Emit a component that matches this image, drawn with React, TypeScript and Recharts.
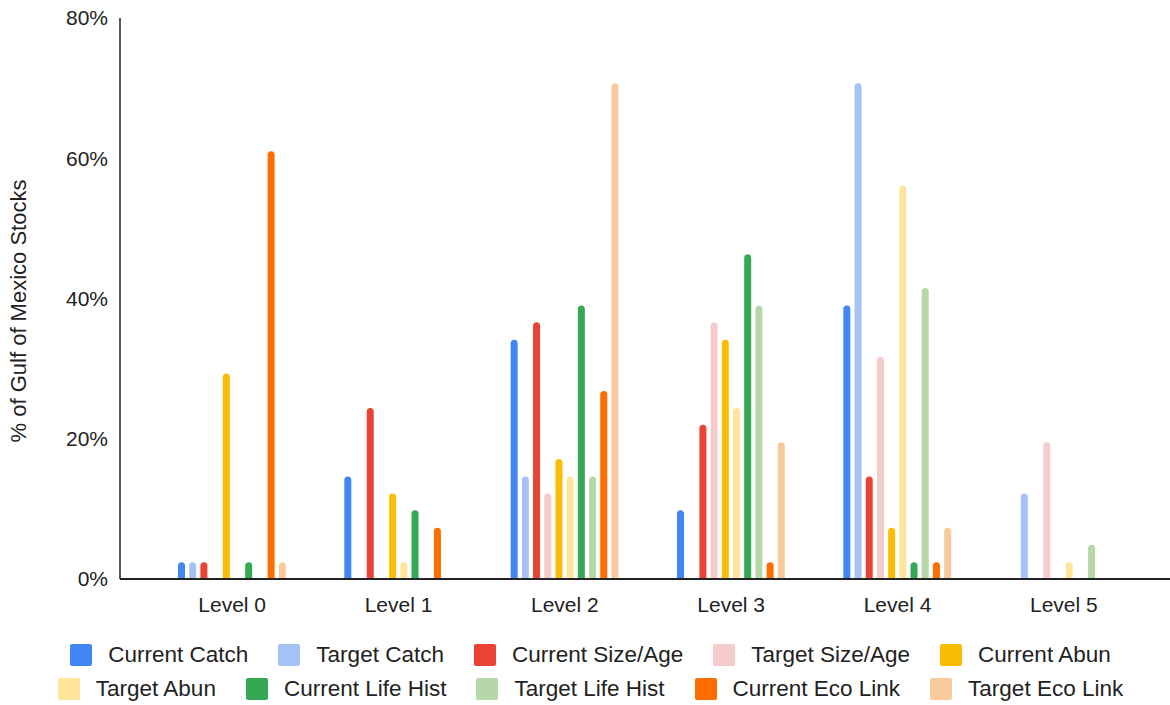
import React from "react";
import { Bar, BarChart, Legend, XAxis, YAxis } from "recharts";

const levels = ["Level 0", "Level 1", "Level 2", "Level 3", "Level 4", "Level 5"];

// % of Gulf of Mexico stocks at each level
const currentCatch = [2.4, 14.6, 34.1, 9.8, 39.0, 0];
const targetCatch = [2.4, 0, 14.6, 0, 70.7, 12.2];
const currentSizeAge = [2.4, 24.4, 36.6, 22.0, 14.6, 0];
const targetSizeAge = [0, 0, 12.2, 36.6, 31.7, 19.5];
const currentAbun = [29.3, 12.2, 17.1, 34.1, 7.3, 0];
const targetAbun = [0, 2.4, 14.6, 24.4, 56.1, 2.4];
const currentLifeHist = [2.4, 9.8, 39.0, 46.3, 2.4, 0];
const targetLifeHist = [0, 0, 14.6, 39.0, 41.5, 4.9];
const currentEcoLink = [61.0, 7.3, 26.8, 2.4, 2.4, 0];
const targetEcoLink = [2.4, 0, 70.7, 19.5, 7.3, 0];

const yTicks = [0, 20, 40, 60, 80];

const series = [
  { key: "cc", name: "Current Catch", values: currentCatch, color: "#4285f4" },
  { key: "tc", name: "Target Catch", values: targetCatch, color: "#a4c2f4" },
  { key: "csa", name: "Current Size/Age", values: currentSizeAge, color: "#ea4335" },
  { key: "tsa", name: "Target Size/Age", values: targetSizeAge, color: "#f4cccc" },
  { key: "ca", name: "Current Abun", values: currentAbun, color: "#fbbc04" },
  { key: "ta", name: "Target Abun", values: targetAbun, color: "#ffe599" },
  { key: "clh", name: "Current Life Hist", values: currentLifeHist, color: "#34a853" },
  { key: "tlh", name: "Target Life Hist", values: targetLifeHist, color: "#b6d7a8" },
  { key: "cel", name: "Current Eco Link", values: currentEcoLink, color: "#ff6d01" },
  { key: "tel", name: "Target Eco Link", values: targetEcoLink, color: "#f9cb9c" },
];

const data = levels.map((level, i) => {
  const row: Record<string, string | number> = { level };
  series.forEach((s) => {
    row[s.key] = s.values[i];
  });
  return row;
});

const FONT = '"Liberation Sans", Arial, sans-serif';
const TEXT = "#222222";

// legend in the series order, two rows of five
function LegendRows() {
  const rows = [series.slice(0, 5), series.slice(5)];
  return (
    <div style={{ paddingTop: 19, fontFamily: FONT, fontSize: 22.5, color: TEXT }}>
      {rows.map((row, r) => (
        <div key={r} style={{ display: "flex", justifyContent: "center", height: 34 }}>
          {row.map((item, i) => (
            <div
              key={item.key}
              style={{
                display: "flex",
                alignItems: "center",
                marginRight: i === row.length - 1 ? 0 : 30,
              }}
            >
              <span
                style={{
                  display: "inline-block",
                  width: 22,
                  height: 22,
                  borderRadius: 2,
                  background: item.color,
                  marginRight: 16,
                }}
              />
              <span style={{ lineHeight: "34px", whiteSpace: "nowrap" }}>{item.name}</span>
            </div>
          ))}
        </div>
      ))}
    </div>
  );
}

export default function App() {
  return (
    <div style={{ position: "absolute", left: 0, top: 0, width: 1170, height: 705, background: "#fff", overflow: "hidden" }}>
      <BarChart
        width={1170}
        height={705}
        data={data}
        margin={{ top: 18, right: 0, left: 0, bottom: 0 }}
        barSize={7}
        barGap={4.2}
      >
        <XAxis
          dataKey="level"
          padding={{ left: 29, right: 23 }}
          tickLine={false}
          tickMargin={12}
          height={40}
          axisLine={{ stroke: TEXT, strokeWidth: 2 }}
          tick={{ fill: TEXT, fontSize: 21, fontFamily: FONT }}
        />
        <YAxis
          width={120}
          domain={[0, 80]}
          ticks={yTicks}
          tickFormatter={(v) => `${v}%`}
          tickLine={false}
          tickMargin={6}
          axisLine={{ stroke: TEXT, strokeWidth: 1.5 }}
          tick={{ fill: TEXT, fontSize: 21, fontFamily: FONT }}
          label={{
            content: () => (
              <text
                x={18.5}
                y={311}
                transform="rotate(-90 18.5 311)"
                textAnchor="middle"
                dominantBaseline="central"
                fill={TEXT}
                fontSize={22}
                fontFamily={FONT}
              >
                % of Gulf of Mexico Stocks
              </text>
            ),
          }}
        />
        <Legend
          verticalAlign="bottom"
          height={86}
          content={<LegendRows />}
          wrapperStyle={{ left: 20, width: 1141 }}
        />
        {series.map((s) => (
          <Bar
            key={s.key}
            dataKey={s.key}
            name={s.name}
            fill={s.color}
            radius={[3.5, 3.5, 0, 0]}
            isAnimationActive={false}
          />
        ))}
      </BarChart>
    </div>
  );
}
